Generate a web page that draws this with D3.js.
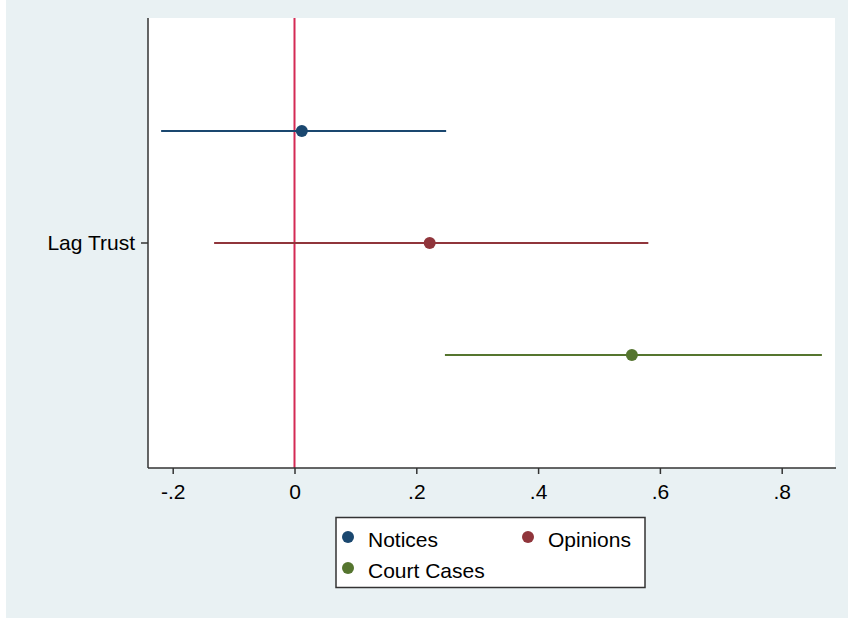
<!DOCTYPE html>
<html>
<head>
<meta charset="utf-8">
<script src="https://cdn.jsdelivr.net/npm/d3@7"></script>
<style>
  body { margin: 0; background: #fff; }
  text { font-family: "Liberation Sans", Arial, sans-serif; fill: #000; }
</style>
</head>
<body>
<svg id="chart" width="848" height="619"></svg>
<script>
// coefficient estimates with 95% CI
const series = ["Notices", "Opinions", "Court Cases"];
const estimates = [0.012, 0.222, 0.554];
const lower = [-0.219, -0.132, 0.247];
const upper = [0.249, 0.581, 0.866];
const colors = ["#1a476f", "#90353b", "#55752f"];
const categories = ["Lag Trust"];
const xTicks = [-0.2, 0, 0.2, 0.4, 0.6, 0.8];

const fontSize = "21px";
const svg = d3.select("#chart");

// graph region
svg.append("rect")
  .attr("x", 6).attr("y", 0)
  .attr("width", 842).attr("height", 618)
  .attr("fill", "#e9f1f3");

const plot = { left: 148, right: 835, top: 18, bottom: 468 };

svg.append("rect")
  .attr("x", plot.left).attr("y", plot.top)
  .attr("width", plot.right - plot.left).attr("height", plot.bottom - plot.top)
  .attr("fill", "#fff");

const x = d3.scaleLinear().domain([-0.2, 0.8]).range([172.7, 781.7]);
const y = d3.scaleBand().domain(categories).range([plot.top, plot.bottom]);
// offsets of the three series inside the category band
const offset = d3.scalePoint().domain(series).range([-112, 112]);

// zero reference line
svg.append("line")
  .attr("x1", x(0)).attr("x2", x(0))
  .attr("y1", plot.top).attr("y2", plot.bottom)
  .attr("stroke", "#d42a55").attr("stroke-width", 2);

const cy = y(categories[0]) + y.bandwidth() / 2;

series.forEach((s, i) => {
  const yy = cy + offset(s);
  svg.append("line")
    .attr("x1", x(lower[i])).attr("x2", x(upper[i]))
    .attr("y1", yy).attr("y2", yy)
    .attr("stroke", colors[i]).attr("stroke-width", 2);
  svg.append("circle")
    .attr("cx", x(estimates[i])).attr("cy", yy).attr("r", 6)
    .attr("fill", colors[i]);
});

// x axis
const xAxis = d3.axisBottom(x)
  .tickValues(xTicks)
  .tickSize(6)
  .tickPadding(10)
  .tickFormat(d => d === 0 ? "0" : d3.format(".1f")(d).replace("\u2212", "-").replace("0.", "."));

const gx = svg.append("g")
  .attr("transform", `translate(0,${plot.bottom})`)
  .call(xAxis);
gx.select(".domain").remove();
gx.append("line")
  .attr("x1", plot.left).attr("x2", plot.right + 1)
  .attr("stroke", "#333").attr("stroke-width", 1.5);
gx.selectAll(".tick line").attr("stroke", "#333").attr("stroke-width", 1.5);
gx.selectAll(".tick text")
  .style("font-size", fontSize)
  .style("font-family", "'Liberation Sans', Arial, sans-serif")
  .attr("fill", "#000");

// y axis
const yAxis = d3.axisLeft(y).tickSize(7).tickPadding(6);
const gy = svg.append("g")
  .attr("transform", `translate(${plot.left},0)`)
  .call(yAxis);
gy.select(".domain").remove();
gy.append("line")
  .attr("y1", plot.top).attr("y2", plot.bottom)
  .attr("stroke", "#333").attr("stroke-width", 1.5);
gy.selectAll(".tick line").attr("stroke", "#333").attr("stroke-width", 1.5);
gy.selectAll(".tick text")
  .style("font-size", fontSize)
  .style("font-family", "'Liberation Sans', Arial, sans-serif")
  .attr("fill", "#000");

// legend
const legend = svg.append("g");
legend.append("rect")
  .attr("x", 336).attr("y", 517.5)
  .attr("width", 309).attr("height", 70)
  .attr("fill", "#fff").attr("stroke", "#333").attr("stroke-width", 1.5);

const legendPos = [[348, 537], [528, 537], [348, 568]];
series.forEach((s, i) => {
  const [lx, ly] = legendPos[i];
  legend.append("circle")
    .attr("cx", lx).attr("cy", ly).attr("r", 6)
    .attr("fill", colors[i]);
  legend.append("text")
    .attr("x", lx + 20).attr("y", ly + 10)
    .style("font-size", fontSize)
    .text(s);
});
</script>
</body>
</html>
